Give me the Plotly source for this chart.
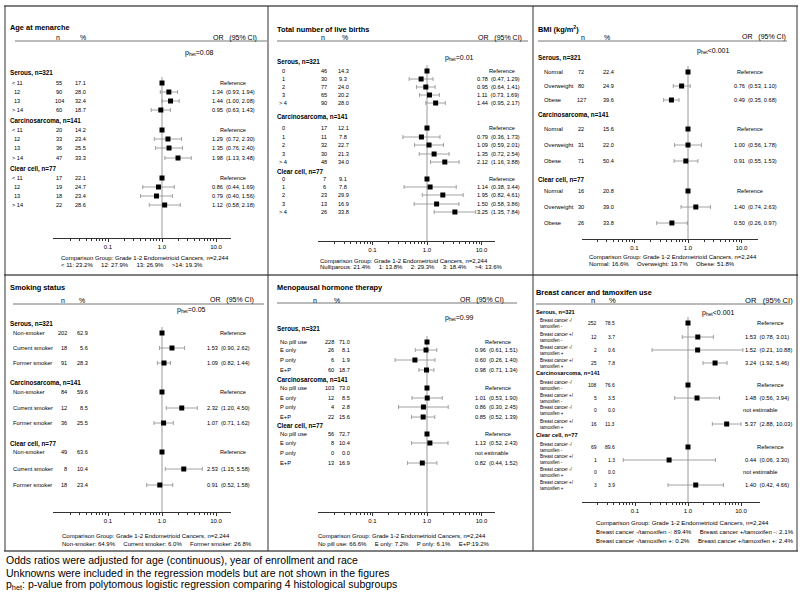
import math
import plotly.graph_objects as go

W, H = 800, 592
FONT = "Liberation Sans, Arial, sans-serif"
SP = "\u00a0"

# ---------------- data ----------------
GROUPS = ["Serous, n=321", "Carcinosarcoma, n=141", "Clear cell, n=77"]
COMPARISON = "Comparison Group: Grade 1-2 Endometrioid Cancers, n=2,244"

AGE_TITLE = "Age at menarche"
AGE_CATS = ["&lt; 11", "12", "13", "&gt; 14"]
AGE_N = [[55, 90, 104, 60], [20, 33, 36, 47], [17, 19, 18, 22]]
AGE_PCT = [[17.1, 28.0, 32.4, 18.7], [14.2, 23.4, 25.5, 33.3], [22.1, 24.7, 23.4, 28.6]]
AGE_OR = [[None, 1.34, 1.44, 0.95], [None, 1.29, 1.35, 1.98], [None, 0.86, 0.79, 1.12]]
AGE_LO = [[None, 0.93, 1.00, 0.63], [None, 0.72, 0.76, 1.13], [None, 0.44, 0.40, 0.58]]
AGE_HI = [[None, 1.94, 2.08, 1.43], [None, 2.30, 2.40, 3.48], [None, 1.69, 1.56, 2.18]]
AGE_PHET = "=0.08"
AGE_FOOT = ["&lt; 11: 23.2%", "12: 27.9%", "13: 26.9%", "&gt;14: 19.3%"]

BIRTH_TITLE = "Total number of live births"
BIRTH_CATS = ["0", "1", "2", "3", "&gt; 4"]
BIRTH_N = [[46, 30, 77, 65, 90], [17, 11, 32, 30, 48], [7, 6, 23, 13, 26]]
BIRTH_PCT = [[14.3, 9.3, 24.0, 20.2, 28.0], [12.1, 7.8, 22.7, 21.3, 34.0], [9.1, 7.8, 29.9, 16.9, 33.8]]
BIRTH_OR = [[None, 0.78, 0.95, 1.11, 1.44], [None, 0.79, 1.09, 1.35, 2.12], [None, 1.14, 1.95, 1.50, 3.25]]
BIRTH_LO = [[None, 0.47, 0.64, 0.73, 0.95], [None, 0.36, 0.59, 0.72, 1.16], [None, 0.38, 0.82, 0.58, 1.35]]
BIRTH_HI = [[None, 1.29, 1.41, 1.69, 2.17], [None, 1.73, 2.01, 2.54, 3.88], [None, 3.44, 4.61, 3.86, 7.84]]
BIRTH_PHET = "=0.01"
BIRTH_FOOT = ["Nulliparous: 21.4%", "1: 13.8%", "2: 29.3%", "3: 18.4%", "&gt;4: 13.6%"]

BMI_TITLE = "BMI (kg/m<sup>2</sup>)"
BMI_CATS = ["Normal", "Overweight", "Obese"]
BMI_N = [[72, 80, 127], [22, 31, 71], [16, 30, 26]]
BMI_PCT = [[22.4, 24.9, 39.6], [15.6, 22.0, 50.4], [20.8, 39.0, 33.8]]
BMI_OR = [[None, 0.76, 0.49], [None, 1.00, 0.91], [None, 1.40, 0.50]]
BMI_LO = [[None, 0.53, 0.35], [None, 0.56, 0.55], [None, 0.74, 0.26]]
BMI_HI = [[None, 1.10, 0.68], [None, 1.78, 1.53], [None, 2.63, 0.97]]
BMI_PHET = "&lt;0.001"
BMI_FOOT = ["Normal: 16.6%", "Overweight: 19.7%", "Obese: 51.8%"]

SMOKE_TITLE = "Smoking status"
SMOKE_CATS = ["Non-smoker", "Current smoker", "Former smoker"]
SMOKE_N = [[202, 18, 91], [84, 12, 36], [49, 8, 18]]
SMOKE_PCT = [[62.9, 5.6, 28.3], [59.6, 8.5, 25.5], [63.6, 10.4, 23.4]]
SMOKE_OR = [[None, 1.53, 1.09], [None, 2.32, 1.07], [None, 2.53, 0.91]]
SMOKE_LO = [[None, 0.90, 0.82], [None, 1.20, 0.71], [None, 1.15, 0.52]]
SMOKE_HI = [[None, 2.62, 1.44], [None, 4.50, 1.62], [None, 5.58, 1.58]]
SMOKE_PHET = "=0.05"
SMOKE_FOOT = ["Non-smoker: 64.9%", "Current smoker: 6.0%", "Former smoker: 26.8%"]

MHT_TITLE = "Menopausal hormone therapy"
MHT_CATS = ["No pill use", "E only", "P only", "E+P"]
MHT_N = [[228, 26, 6, 60], [103, 12, 4, 22], [56, 8, 0, 13]]
MHT_PCT = [[71.0, 8.1, 1.9, 18.7], [73.0, 8.5, 2.8, 15.6], [72.7, 10.4, 0.0, 16.9]]
MHT_OR = [[None, 0.96, 0.60, 0.98], [None, 1.01, 0.86, 0.85], [None, 1.13, "NE", 0.82]]
MHT_LO = [[None, 0.61, 0.26, 0.71], [None, 0.53, 0.30, 0.52], [None, 0.52, None, 0.44]]
MHT_HI = [[None, 1.51, 1.40, 1.34], [None, 1.90, 2.45, 1.39], [None, 2.43, None, 1.52]]
MHT_PHET = "=0.99"
MHT_FOOT = ["No pill use: 66.6%", "E only: 7.2%", "P only: 6.1%", "E+P:19.2%"]

BC_TITLE = "Breast cancer and tamoxifen use"
BC_CATS = ["Breast cancer -/<br>tamoxifen -", "Breast cancer +/<br>tamoxifen -",
           "Breast cancer -/<br>tamoxifen +", "Breast cancer +/<br>tamoxifen +"]
BC_N = [[252, 12, 2, 25], [108, 5, 0, 16], [69, 1, 0, 3]]
BC_PCT = [[78.5, 3.7, 0.6, 7.8], [76.6, 3.5, 0.0, 11.3], [89.6, 1.3, 0.0, 3.9]]
BC_OR = [[None, 1.53, 1.52, 3.24], [None, 1.48, "NE", 5.37], [None, 0.44, "NE", 1.40]]
BC_LO = [[None, 0.78, 0.21, 1.92], [None, 0.56, None, 2.88], [None, 0.06, None, 0.42]]
BC_HI = [[None, 3.01, 10.88, 5.46], [None, 3.94, None, 10.03], [None, 3.30, None, 4.66]]
BC_PHET = "&lt;0.001"
BC_FOOT = [["Breast cancer -/tamoxifen -: 89.4%", "Breast cancer +/tamoxifen -: 2.1%"],
           ["Breast cancer -/tamoxifen +: 0.2%", "Breast cancer +/tamoxifen +: 2.4%"]]

FOOTNOTES = [
    "Odds ratios were adjusted for age (continuous), year of enrollment and race",
    "Unknowns were included in the regression models but are not shown in the figures",
    "p<sub>het</sub>: p-value from polytomous logistic regression comparing 4 histological subgroups",
]

TICK_VALS = [0.1, 1, 10]
TICK_TEXT = ["0.1", "1.0", "10.0"]
MINOR_VALS = [k * 10.0 ** e for e in (-2, -1, 0) for k in range(2, 10)]

# ---------------- layout geometry (pixels) ----------------
PANELS = [
    dict(title=AGE_TITLE, cats=AGE_CATS, n=AGE_N, pct=AGE_PCT, orv=AGE_OR, lo=AGE_LO, hi=AGE_HI,
         phet=AGE_PHET, foot=[COMPARISON, (SP * 5).join(AGE_FOOT)],
         top=6, title_xy=(10, 28), hdr_y=38, n_hdr=58, pct_hdr=83, or_hdr=213, hline=(15, 267, 41),
         phet_xy=(185, 53), gx=10, gy=[73, 121, 169],
         rows=[[83, 92, 101, 110], [130, 139, 148, 158], [178, 187, 196, 205]],
         lab=(17, "center"), nx=(59, "center"), px=(80, "center"), orx=212, refx=(233, "center"), nex=212,
         ax=(53, 231, 162, 54.0, 238), foot_xy=(61, [258, 265]),
         fs_row=5.6, fs_lab=5.6, fs_grp=6.3, fs_hdr=7, fs_title=7.4, fs_or=5.6, fs_foot=6),
    dict(title=BIRTH_TITLE, cats=BIRTH_CATS, n=BIRTH_N, pct=BIRTH_PCT, orv=BIRTH_OR, lo=BIRTH_LO, hi=BIRTH_HI,
         phet=BIRTH_PHET, foot=[COMPARISON, (SP * 5).join(BIRTH_FOOT)],
         top=6, title_xy=(277, 29), hdr_y=38, n_hdr=323, pct_hdr=345, or_hdr=478, hline=(277, 528, 41),
         phet_xy=(445, 58), gx=277, gy=[62, 117, 172],
         rows=[[71, 79, 87, 95, 103], [128, 137, 145, 154, 162], [179, 187, 195, 204, 212]],
         lab=(283, "center"), nx=(324, "center"), px=(343, "center"), orx=477, refx=(502, "center"), nex=477,
         ax=(318, 495, 427, 54.5, 241), foot_xy=(320, [261, 267]),
         fs_row=5.6, fs_lab=5.6, fs_grp=6.3, fs_hdr=7, fs_title=7.4, fs_or=5.6, fs_foot=6),
    dict(title=BMI_TITLE, cats=BMI_CATS, n=BMI_N, pct=BMI_PCT, orv=BMI_OR, lo=BMI_LO, hi=BMI_HI,
         phet=BMI_PHET, foot=[COMPARISON, (SP * 5).join(BMI_FOOT)],
         top=6, title_xy=(538, 29), hdr_y=37, n_hdr=583, pct_hdr=607, or_hdr=742, hline=(538, 787, 41),
         phet_xy=(697, 51), gx=538, gy=[58, 115, 180],
         rows=[[72, 86, 100], [129, 145, 161], [191, 207, 223]],
         lab=(544, "left"), nx=(581, "center"), px=(608, "center"), orx=734, refx=(750, "center"), nex=734,
         ax=(582, 758, 688, 53.5, 239), foot_xy=(589, [257, 264]),
         fs_row=5.6, fs_lab=5.8, fs_grp=6.3, fs_hdr=7, fs_title=7.4, fs_or=5.6, fs_foot=6),
    dict(title=SMOKE_TITLE, cats=SMOKE_CATS, n=SMOKE_N, pct=SMOKE_PCT, orv=SMOKE_OR, lo=SMOKE_LO, hi=SMOKE_HI,
         phet=SMOKE_PHET, foot=[COMPARISON, (SP * 5).join(SMOKE_FOOT)],
         top=276, title_xy=(10, 287), hdr_y=300, n_hdr=63, pct_hdr=82, or_hdr=210, hline=(13, 264, 304),
         phet_xy=(177, 310), gx=10, gy=[324, 383, 444],
         rows=[[333, 348, 363], [392, 408, 423], [452, 469, 485]],
         lab=(13, "left"), nx=(67, "right"), px=(88, "right"), orx=207, refx=(233, "center"), nex=207,
         ax=(53, 231, 162, 54.0, 512), foot_xy=(62, [536, 544]),
         fs_row=5.6, fs_lab=5.8, fs_grp=6.3, fs_hdr=7, fs_title=7.4, fs_or=5.6, fs_foot=6),
    dict(title=MHT_TITLE, cats=MHT_CATS, n=MHT_N, pct=MHT_PCT, orv=MHT_OR, lo=MHT_LO, hi=MHT_HI,
         phet=MHT_PHET, foot=[COMPARISON, (SP * 5).join(MHT_FOOT)],
         top=276, title_xy=(277, 287), hdr_y=300, n_hdr=315, pct_hdr=337, or_hdr=460, hline=(277, 517, 303),
         phet_xy=(445, 318), gx=277, gy=[329, 380, 426],
         rows=[[342, 350, 360, 370], [388, 398, 407, 417], [434, 443, 453, 463]],
         lab=(280, "left"), nx=(334, "right"), px=(350, "right"), orx=475, refx=(498, "center"), nex=475,
         ax=(318, 495, 427, 54.5, 512), foot_xy=(318, [536, 544]),
         fs_row=5.6, fs_lab=5.8, fs_grp=6.3, fs_hdr=7, fs_title=7.4, fs_or=5.6, fs_foot=6),
    dict(title=BC_TITLE, cats=BC_CATS, n=BC_N, pct=BC_PCT, orv=BC_OR, lo=BC_LO, hi=BC_HI,
         phet=BC_PHET, foot=[COMPARISON] + [(SP * 5).join(r) for r in BC_FOOT],
         top=276, title_xy=(536, 292), hdr_y=300, n_hdr=593, pct_hdr=612, or_hdr=745, hline=(536, 790, 304),
         phet_xy=(702, 313), gx=536, gy=[312, 373, 435],
         rows=[[323, 337, 350, 363], [385, 398, 410, 424], [447, 460, 472, 485]],
         lab=(540, "left"), nx=(597, "right"), px=(615, "right"), orx=745, refx=(757, "left"), nex=743,
         ax=(582, 760, 688, 53.0, 502), foot_xy=(596, [522, 531, 540]),
         fs_row=5.0, fs_lab=4.5, fs_grp=5.7, fs_hdr=7.6, fs_title=7.4, fs_or=5.8, fs_foot=6.2),
]

BORDER_Y = [6, 275, 551]
BORDER_X = [5, 268, 533, 797]

# ---------------- build ----------------
fig = go.Figure()
ann = []
shapes = []


def px2x(x):
    return x / W


def px2y(y):
    return 1 - y / H


def text(x, y, s, size, anchor="left", bold=False):
    if bold:
        s = "<b>" + s + "</b>"
    ann.append(dict(x=px2x(x), y=px2y(y), xref="paper", yref="paper", text=s, showarrow=False,
                    xanchor=anchor, yanchor="middle", align="left", borderpad=0, borderwidth=0,
                    font=dict(size=size, family=FONT, color="black")))


for i, p in enumerate(PANELS, start=1):
    xa = "x" if i == 1 else f"x{i}"
    ya = "y" if i == 1 else f"y{i}"
    x0, x1, ref_px, dec, ax_y = p["ax"]

    # texts
    text(*p["title_xy"], p["title"], p["fs_title"], bold=True)
    text(p["n_hdr"], p["hdr_y"], "n", p["fs_hdr"], "center")
    text(p["pct_hdr"], p["hdr_y"], "%", p["fs_hdr"], "center")
    text(p["or_hdr"], p["hdr_y"], "OR" + SP * 3 + "(95% CI)", p["fs_hdr"])
    text(*p["phet_xy"], "p<sub>het</sub>" + p["phet"], 7)
    hx0, hx1, hy = p["hline"]
    shapes.append(dict(type="line", xref="paper", yref="paper", x0=px2x(hx0), x1=px2x(hx1),
                       y0=px2y(hy), y1=px2y(hy), line=dict(color="#777777", width=1)))

    xs, ys, ex_p, ex_m = [], [], [], []
    for g, gname in enumerate(GROUPS):
        text(p["gx"], p["gy"][g], gname, p["fs_grp"], bold=True)
        for r, cat in enumerate(p["cats"]):
            y = p["rows"][g][r]
            text(p["lab"][0], y, cat, p["fs_lab"], p["lab"][1])
            text(p["nx"][0], y, str(p["n"][g][r]), p["fs_row"], p["nx"][1])
            text(p["px"][0], y, f"{p['pct'][g][r]:.1f}", p["fs_row"], p["px"][1])
            o = p["orv"][g][r]
            if o is None:
                text(p["refx"][0], y, "Reference", p["fs_or"], p["refx"][1])
                xs.append(1.0); ys.append(y); ex_p.append(0); ex_m.append(0)
            elif o == "NE":
                text(p["nex"], y, "not estimable", p["fs_or"])
            else:
                lo, hi = p["lo"][g][r], p["hi"][g][r]
                text(p["orx"], y, f"{o:.2f}" + SP * 2 + f"({lo:.2f}, {hi:.2f})", p["fs_or"])
                xs.append(o); ys.append(y); ex_p.append(hi - o); ex_m.append(o - lo)

    # reference line at OR = 1
    shapes.append(dict(type="line", xref=xa, yref=ya, x0=1, x1=1, y0=p["rows"][0][0] - 6, y1=ax_y,
                       line=dict(color="#9a9a9a", width=1), layer="below"))

    fig.add_trace(go.Scatter(
        x=xs, y=ys, mode="markers", xaxis=xa, yaxis=ya, showlegend=False,
        marker=dict(symbol="square", size=5, color="black"),
        error_x=dict(type="data", symmetric=False, array=ex_p, arrayminus=ex_m,
                     color="#8a8a8a", thickness=0.8, width=2),
    ))

    lo_log = (x0 - ref_px) / dec
    hi_log = (x1 - ref_px) / dec
    top = p["top"]
    xkey = "xaxis" if i == 1 else f"xaxis{i}"
    ykey = "yaxis" if i == 1 else f"yaxis{i}"
    fig.update_layout(**{
        xkey: dict(type="log", domain=[px2x(x0), px2x(x1)], range=[lo_log, hi_log], anchor=ya,
                   showline=True, linecolor="#333333", linewidth=1, ticks="outside", ticklen=3,
                   tickcolor="#333333", tickvals=TICK_VALS, ticktext=TICK_TEXT,
                   tickfont=dict(size=6, family=FONT, color="black"), showgrid=False, zeroline=False,
                   minor=dict(ticks="outside", ticklen=2, tickcolor="#333333", tickmode="array",
                              tickvals=MINOR_VALS, showgrid=False),
                   fixedrange=True),
        ykey: dict(domain=[px2y(ax_y), px2y(top)], range=[ax_y, top], anchor=xa, visible=False,
                   fixedrange=True),
    })

    fx, fys = p["foot_xy"]
    for line, fy in zip(p["foot"], fys):
        text(fx, fy, line, p["fs_foot"])

# borders
for by in BORDER_Y:
    shapes.append(dict(type="line", xref="paper", yref="paper", x0=px2x(4), x1=px2x(798),
                       y0=px2y(by), y1=px2y(by), line=dict(color="#555555", width=1.5)))
for bx in BORDER_X:
    shapes.append(dict(type="line", xref="paper", yref="paper", x0=px2x(bx), x1=px2x(bx),
                       y0=px2y(BORDER_Y[0]), y1=px2y(BORDER_Y[-1]), line=dict(color="#333333", width=1)))

for k, fn in enumerate(FOOTNOTES):
    text(6, 560 + k * 12.5, fn, 10.5)

fig.update_layout(width=W, height=H, margin=dict(l=0, r=0, t=0, b=0),
                  paper_bgcolor="white", plot_bgcolor="rgba(0,0,0,0)",
                  annotations=ann, shapes=shapes, showlegend=False, hovermode=False)

fig.write_html("out.html", config={"displayModeBar": False, "staticPlot": True},
               post_script="document.body.style.margin='0px';document.body.style.padding='0px';")
